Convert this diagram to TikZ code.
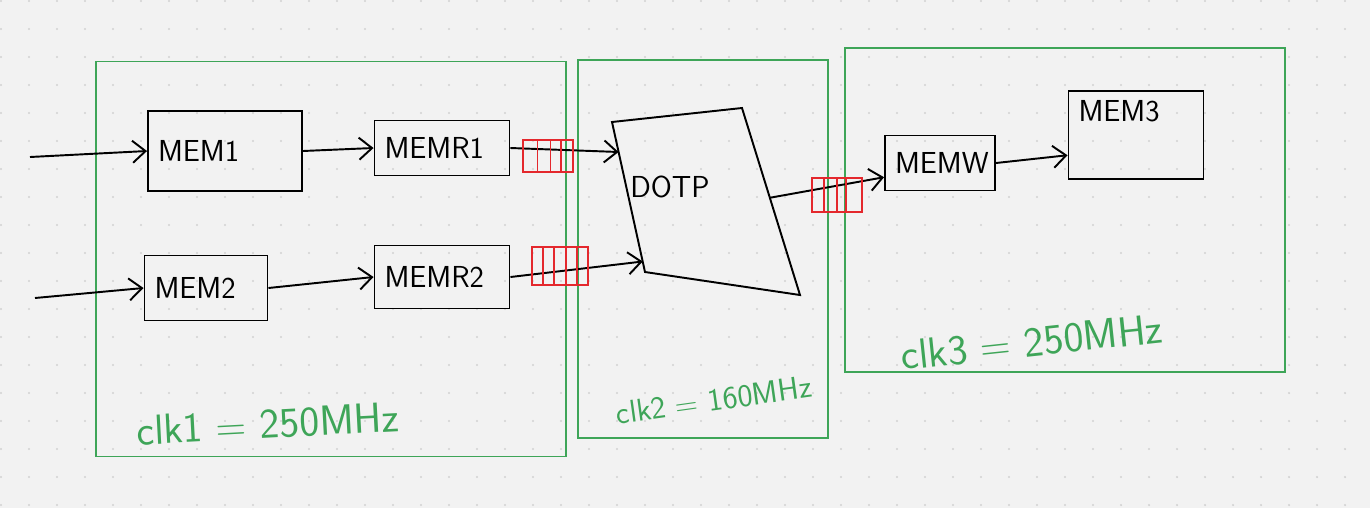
\documentclass[tikz,border=0pt]{standalone}
\usepackage{tikz}
\usetikzlibrary{arrows.meta,positioning,calc}
\definecolor{sketchgreen}{RGB}{62,165,88}
\definecolor{sketchred}{RGB}{228,40,45}
\definecolor{paper}{RGB}{242,242,242}
\definecolor{griddot}{RGB}{210,210,210}

\begin{document}
\begin{tikzpicture}[x=0.02cm, y=-0.02cm, >={Straight Barb[length=2.6mm,width=4.4mm]},
    every node/.style={font=\sffamily\LARGE},
    mem/.style={draw, line width=1.1pt, align=left, inner xsep=0.2cm},
    clkdomain/.style={draw=sketchgreen, line width=0.9pt},
    fifo/.style={draw=sketchred, line width=0.9pt},
    fifoline/.style={sketchred, line width=0.9pt},
    clk/.style={text=sketchgreen, font=\sffamily\fontsize{24}{28}\selectfont},
    wire/.style={->, line width=1.1pt}]
    \useasboundingbox (0,0) rectangle (1370,508);
    \fill[paper] (0,0) rectangle (1370,508);
    \foreach \i in {0,...,48}
        \foreach \j in {0,...,18}
            \fill[griddot] (1+28*\i,1+28*\j) circle (0.7pt);

    % clock domains
    \node[clkdomain, minimum width=9.4cm, minimum height=7.9cm] (dom1) at (331,259) {};
    \node[clkdomain, minimum width=5.0cm, minimum height=7.56cm] (dom2) at (703,249) {};
    \node[clkdomain, minimum width=8.8cm, minimum height=6.48cm] (dom3) at (1065,210) {};
    \node[clk, rotate=3] (clk1) at (268,424) {clk1 = 250MHz};
    \node[clk, rotate=8, font=\sffamily\fontsize{18}{22}\selectfont] (clk2) at (714,400) {clk2 = 160MHz};
    \node[clk, rotate=6] (clk3) at (1032,342) {clk3 = 250MHz};

    % memories
    \node[mem, text width=2.68cm, minimum height=1.6cm] (mem1) at (225,151) {MEM1};
    \node[mem, text width=2.3cm, minimum height=1.1cm] (memr1) at (442,148) {MEMR1};
    \node[mem, text width=2.06cm, minimum height=1.3cm] (mem2) at (206,288) {MEM2};
    \node[mem, text width=2.3cm, minimum height=1.26cm] (memr2) at (442,277) {MEMR2};
    \node[mem, text width=1.8cm, minimum height=1.1cm] (memw) at (940,163) {MEMW};
    \node[mem, text width=2.3cm, minimum height=1.76cm, text depth=0.95cm] (mem3) at (1136,135) {MEM3};

    % dot product unit
    \coordinate (dnw) at (612,122);
    \coordinate (dne) at (742,108);
    \coordinate (dse) at (800,295);
    \coordinate (dsw) at (645,272);
    \draw[line width=1.1pt] (dnw) -- (dne) -- (dse) -- (dsw) -- cycle;
    \node (dotp) at (670,187) {DOTP};
    \coordinate (dotpina) at ($(dnw)!0.2!(dsw)$);
    \coordinate (dotpinb) at ($(dnw)!0.93!(dsw)$);
    \coordinate (dotpout) at ($(dne)!0.48!(dse)$);

    % inputs
    \coordinate (in1) at (30,157);
    \coordinate (in2) at (35,298);
    \draw[wire] (in1) -- (mem1.west);
    \draw[wire] (in2) -- (mem2.west);
    \draw[wire] (mem1.east) -- (memr1.west);
    \draw[wire] (mem2.east) -- (memr2.west);
    \draw[wire] (memr1.east) -- (dotpina);
    \draw[wire] (memr2.east) -- (dotpinb);
    \draw[wire] (dotpout) -- ($(memw.west)!0.5!(memw.south west)$);
    \draw[wire] (memw.east) -- ($(mem3.west)!0.45!(mem3.south west)$);

    % crossing fifos
    \node[fifo, minimum width=1.0cm, minimum height=0.64cm] (fifoa) at (548,156) {};
    \node[fifo, minimum width=1.12cm, minimum height=0.76cm] (fifob) at (560,266) {};
    \node[fifo, minimum width=1.0cm, minimum height=0.68cm] (fifoc) at (837,195) {};
    \foreach \k in {0.3,0.55,0.75}
        \draw[fifoline] ($(fifoa.north west)!\k!(fifoa.north east)$) -- ($(fifoa.south west)!\k!(fifoa.south east)$);
    \foreach \k in {0.2,0.4,0.6,0.8}
        \draw[fifoline] ($(fifob.north west)!\k!(fifob.north east)$) -- ($(fifob.south west)!\k!(fifob.south east)$);
    \foreach \k in {0.25,0.5,0.68}
        \draw[fifoline] ($(fifoc.north west)!\k!(fifoc.north east)$) -- ($(fifoc.south west)!\k!(fifoc.south east)$);
\end{tikzpicture}
\end{document}
